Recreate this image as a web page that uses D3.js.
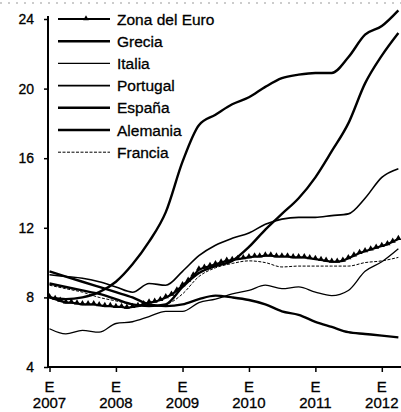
<!DOCTYPE html>
<html>
<head>
<meta charset="utf-8">
<script src="https://cdn.jsdelivr.net/npm/d3@7"></script>
<style>
  body { margin: 0; background: #fff; }
  #chart { margin: 0; }
  svg { display: block; font-family: "Liberation Sans", Arial, sans-serif; }
</style>
</head>
<body>
<figure id="chart"></figure>
<script>
// dates: quarterly for most series, monthly for the euro area
const quarters = d3.timeMonth.every(3).range(new Date(2007, 0, 1), new Date(2012, 4, 1));
const months = d3.timeMonth.range(new Date(2007, 0, 1), new Date(2012, 4, 1));

// unemployment rate, %
const zonaEuro = [8.0, 7.9, 7.8, 7.7, 7.7, 7.65, 7.6, 7.6, 7.6, 7.55, 7.5, 7.5,
  7.45, 7.45, 7.4, 7.45, 7.5, 7.6, 7.7, 7.75, 7.85, 8.0, 8.15, 8.4,
  8.7, 8.95, 9.25, 9.6, 9.7, 9.8, 9.9, 10.0, 10.1, 10.15, 10.2, 10.25,
  10.3, 10.35, 10.35, 10.4, 10.4, 10.35, 10.35, 10.35, 10.3, 10.3, 10.3, 10.25,
  10.2, 10.15, 10.1, 10.05, 10.05, 10.1, 10.25, 10.4, 10.55, 10.65, 10.75, 10.85,
  10.95, 11.05, 11.2, 11.35];
const grecia = [8.8, 8.6, 8.4, 8.2, 7.9, 7.6, 7.5, 7.6, 8.6, 9.4, 9.8, 10.1, 10.9, 11.9, 12.8, 13.7, 14.9, 16.4, 18.0, 20.3, 21.9, 23.2];
const italia = [6.2, 5.9, 6.1, 6.0, 6.5, 6.6, 6.9, 7.2, 7.2, 7.7, 7.9, 8.2, 8.4, 8.7, 8.5, 8.6, 8.3, 8.1, 8.4, 9.5, 10.05, 10.8];
const portugal = [9.3, 9.2, 9.1, 8.9, 8.6, 8.3, 8.8, 8.7, 9.5, 10.4, 11.0, 11.4, 11.7, 12.2, 12.5, 12.6, 12.6, 12.7, 12.8, 13.7, 14.9, 15.4];
const espana = [8.0, 7.9, 8.0, 8.3, 8.9, 9.9, 11.2, 12.9, 15.8, 17.9, 18.5, 19.1, 19.5, 20.1, 20.6, 20.8, 20.9, 20.9, 21.8, 23.1, 23.6, 24.5];
const alemania = [9.5, 9.2, 8.9, 8.6, 8.3, 8.0, 7.6, 7.5, 7.6, 7.9, 8.1, 8.0, 7.85, 7.6, 7.2, 7.0, 6.6, 6.3, 6.0, 5.9, 5.8, 5.7];
const francia = [8.7, 8.5, 8.3, 8.0, 7.8, 7.6, 7.5, 7.6, 8.2, 9.2, 9.7, 9.95, 10.1, 10.0, 9.75, 9.8, 9.8, 9.8, 9.8, 10.0, 10.1, 10.3];

const yTicks = [4, 8, 12, 16, 20, 24];
const xYears = [2007, 2008, 2009, 2010, 2011, 2012];

const series = [
  { name: "Zona del Euro", dates: months, values: zonaEuro, width: 2.2, dash: null, markers: true },
  { name: "Grecia", dates: quarters, values: grecia, width: 2.4, dash: null },
  { name: "Italia", dates: quarters, values: italia, width: 1.3, dash: null },
  { name: "Portugal", dates: quarters, values: portugal, width: 1.6, dash: null },
  { name: "España", dates: quarters, values: espana, width: 2.4, dash: null },
  { name: "Alemania", dates: quarters, values: alemania, width: 2.4, dash: null },
  { name: "Francia", dates: quarters, values: francia, width: 1.0, dash: "3,1.5" }
];

const width = 401;
const height = 412;

const svg = d3.select("#chart")
  .append("svg")
  .attr("width", width)
  .attr("height", height);

const x = d3.scaleTime()
  .domain([new Date(2007, 0, 1), new Date(2012, 3, 10)])
  .range([49.5, 400]);

const y = d3.scaleLinear()
  .domain([4, 24])
  .range([367, 19]);

// scan noise line at the very top
svg.append("line")
  .attr("x1", 0).attr("x2", width)
  .attr("y1", 3).attr("y2", 3)
  .attr("stroke", "#999")
  .attr("stroke-width", 1)
  .attr("stroke-dasharray", "2,6");

// y axis
const yAxis = svg.append("g")
  .attr("transform", "translate(48,0)")
  .call(d3.axisLeft(y).tickValues(yTicks).tickSize(4).tickPadding(10));
yAxis.select(".domain")
  .attr("d", "M0," + (y(24) - 3) + "V" + y(4))
  .attr("stroke-width", 2);
yAxis.selectAll(".tick line").attr("stroke-width", 1.5);
yAxis.selectAll(".tick text")
  .style("font-size", "14px")
  .style("font-family", "Liberation Sans, Arial, sans-serif")
  .attr("fill", "#000")
  .attr("stroke", "#000")
  .attr("stroke-width", 0.3);

// x axis
const xAxis = svg.append("g")
  .attr("transform", "translate(0," + y(4) + ")")
  .call(d3.axisBottom(x)
    .tickValues(xYears.map(d => new Date(d, 0, 1)))
    .tickSize(5)
    .tickFormat(""));
xAxis.select(".domain")
  .attr("d", "M48,0H" + width)
  .attr("stroke-width", 2);
xAxis.selectAll(".tick line").attr("stroke-width", 1.5);

const xLab = svg.append("g")
  .selectAll("text")
  .data(xYears)
  .enter()
  .append("text")
  .attr("text-anchor", "middle")
  .style("font-size", "15px")
  .attr("stroke", "#000")
  .attr("stroke-width", 0.3)
  .attr("transform", d => "translate(" + x(new Date(d, 0, 1)) + ",0)");
xLab.append("tspan").attr("x", 0).attr("y", 392).text("E");
xLab.append("tspan").attr("x", 0).attr("y", 408).text(d => d);

// lines
series.forEach(function (s) {
  const pts = s.values.map((v, i) => [s.dates[i], v]);
  const line = d3.line()
    .x(d => x(d[0]))
    .y(d => y(d[1]))
    .curve(s.markers ? d3.curveLinear : d3.curveMonotoneX);
  svg.append("path")
    .datum(pts)
    .attr("d", line)
    .attr("fill", "none")
    .attr("stroke", "#000")
    .attr("stroke-width", s.width)
    .attr("stroke-linejoin", "round")
    .attr("stroke-dasharray", s.dash);
  if (s.markers) {
    svg.append("g")
      .selectAll("path")
      .data(pts)
      .enter()
      .append("path")
      .attr("d", d3.symbol().type(d3.symbolTriangle).size(16))
      .attr("transform", d => "translate(" + x(d[0]) + "," + (y(d[1]) - 0.8) + ")")
      .attr("fill", "#000");
  }
});

// legend
const legend = svg.append("g")
  .selectAll("g")
  .data(series)
  .enter()
  .append("g")
  .attr("transform", (d, i) => "translate(58," + (19 + i * 22.2) + ")");

legend.append("line")
  .attr("x1", 0).attr("x2", 52)
  .attr("stroke", "#000")
  .attr("stroke-width", d => d.width)
  .attr("stroke-dasharray", d => d.dash);

legend.filter(d => d.markers)
  .append("path")
  .attr("d", d3.symbol().type(d3.symbolTriangle).size(14))
  .attr("transform", "translate(28,-0.5)");

legend.append("text")
  .attr("x", 59)
  .attr("y", 5.5)
  .style("font-size", "15.5px")
  .attr("stroke", "#000")
  .attr("stroke-width", 0.3)
  .text(d => d.name);
</script>
</body>
</html>
